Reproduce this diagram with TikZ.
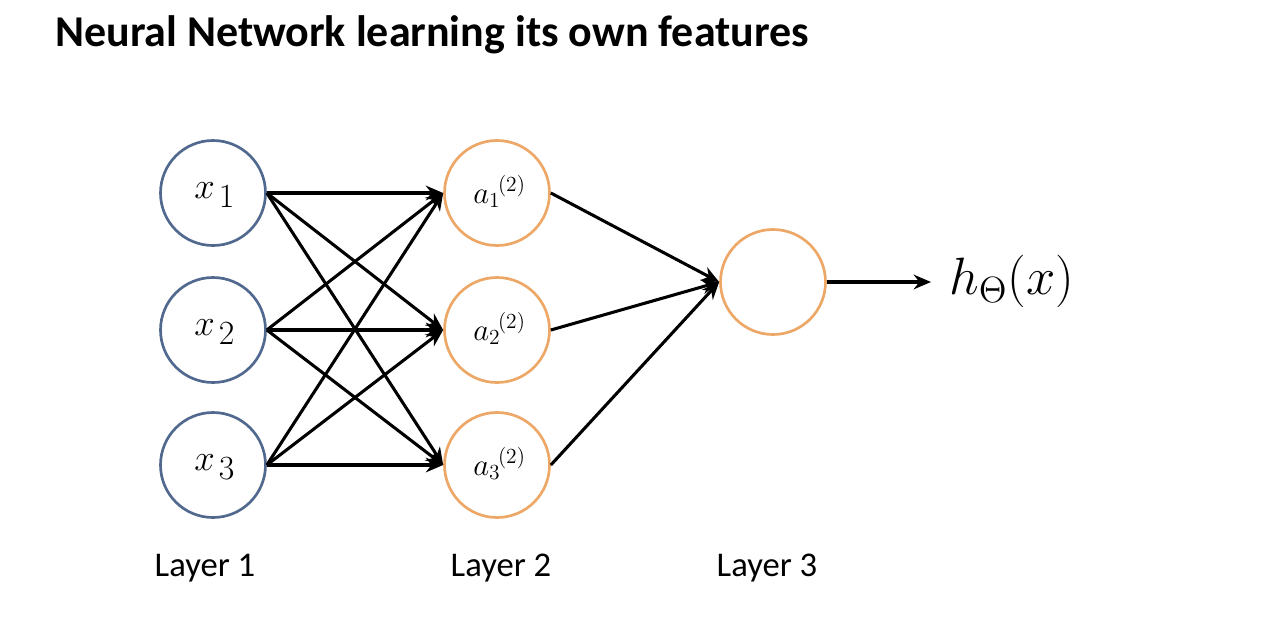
\documentclass[tikz,border=0pt]{standalone}
\usepackage{graphicx}
\usepackage{fontspec}
\setsansfont{Carlito}
\usetikzlibrary{arrows.meta}
\definecolor{inblue}{HTML}{51698F}
\definecolor{hidorange}{HTML}{EDA766}
\newcommand{\bigmath}[2]{\scalebox{#1}{\huge$#2$}}
\newcommand{\xin}[1]{\bigmath{1.33}{x_{\mkern3mu\hbox{\scalebox{0.92}{$#1$}}}}}
\newcommand{\ahid}[1]{\bigmath{1.12}{a_{#1}{}^{\mkern-2mu(2)}}}
\begin{document}
\begin{tikzpicture}[x=0.75pt,y=-0.75pt,
  neuron/.style={circle,minimum size=105*0.75pt,inner sep=0pt,line width=2pt,fill=white},
  inneuron/.style={neuron,draw=inblue},
  hidneuron/.style={neuron,draw=hidorange},
  lbl/.style={inner sep=0pt,anchor=base west},
  conn/.style={-{Stealth[length=13pt,width=11pt]},line width=2.3pt,black},
  layerlbl/.style={font=\sffamily\fontsize{26}{30}\selectfont,anchor=base},
  title/.style={font=\sffamily\bfseries\fontsize{33}{38}\selectfont,anchor=base west}]
\useasboundingbox (0,0) rectangle (1280,621);
\fill[white] (0,0) rectangle (1280,621);
\node[title,inner sep=0pt] (t) at (55,46) {Neural Network learning its own features};
\node[inneuron] (x1) at (213,193) {};
\node[inneuron] (x2) at (213,330) {};
\node[inneuron] (x3) at (213,465) {};
\node[lbl] (x1l) at (194,198) {\xin{1}};
\node[lbl] (x2l) at (194,335) {\xin{2}};
\node[lbl] (x3l) at (194,470) {\xin{3}};
\node[hidneuron] (a1) at (497,193) {};
\node[hidneuron] (a2) at (497,330) {};
\node[hidneuron] (a3) at (497,465) {};
\node[lbl] (a1l) at (473,203) {\ahid{1}};
\node[lbl] (a2l) at (473,340) {\ahid{2}};
\node[lbl] (a3l) at (473,475) {\ahid{3}};
\node[hidneuron] (o) at (773,282) {};
\node[anchor=west,inner sep=0pt] (h) at (949,281) {\bigmath{1.9}{h_{\Theta}(x)}};
\coordinate (oend) at (931,282);
\foreach \i in {1,2,3}{
  \foreach \j in {1,2,3}{
    \draw[conn] (x\i.east) -- (a\j.west);
  }
  \draw[conn] (a\i.east) -- (o.west);
}
\draw[conn] (o.east) -- (oend);
\node[layerlbl] (l1) at (205,576) {Layer 1};
\node[layerlbl] (l2) at (501,576) {Layer 2};
\node[layerlbl] (l3) at (767,576) {Layer 3};
\end{tikzpicture}
\end{document}
